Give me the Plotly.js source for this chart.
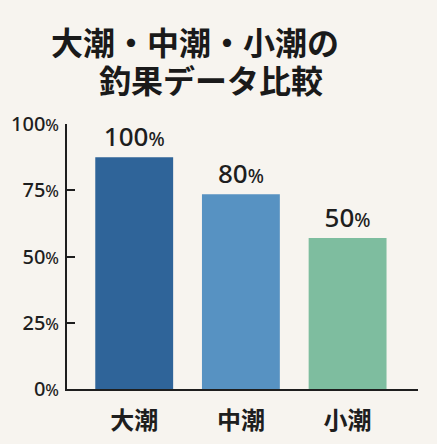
<!DOCTYPE html>
<html>
<head>
<meta charset="utf-8">
<script src="https://cdn.plot.ly/plotly-3.0.1.min.js"></script>
<style>
  html, body { margin: 0; padding: 0; background: #f7f4ef; }
  #chart { width: 437px; height: 444px; }
</style>
</head>
<body>
<div id="chart"></div>
<script>
// 潮ごとの釣果 (bar heights as drawn in the picture, labels as printed)
const tides = ['大潮', '中潮', '小潮'];
const barHeights = [87.5, 73.5, 57];
const valueLabels = ['100', '80', '50'];
const barColors = ['#2f6499', '#5792c2', '#7ebd9f'];

const yTickVals = [0, 25, 50, 75, 100];
const yTickNums = ['0', '25', '50', '75', '100'];

const titleLines = ['大潮・中潮・小潮の', '釣果データ比較'];

const pct = (n, size) => `${n}<span style="font-size:${size}px">%</span>`;
const big = s => `<span style="font-size:32px">${s}</span>`;

const trace = {
    type: 'bar',
    x: tides,
    y: barHeights,
    width: 0.73,
    marker: { color: barColors, line: { width: 0 } },
    text: valueLabels.map(v => pct(v, 19)),
    textposition: 'outside',
    constraintext: 'none',
    cliponaxis: false,
    textfont: { family: 'Noto Sans, sans-serif', size: 26, weight: 500, color: '#1e1e1e' },
    hoverinfo: 'none'
};

const layout = {
    width: 437,
    height: 444,
    margin: { l: 67, r: 19, t: 124, b: 55 },
    paper_bgcolor: '#f7f4ef',
    plot_bgcolor: '#f7f4ef',
    showlegend: false,
    xaxis: {
        range: [-0.63, 2.66],
        showline: true,
        linecolor: '#1e1e1e',
        linewidth: 2,
        ticks: '',
        showgrid: false,
        zeroline: false,
        ticklabelstandoff: 9,
        tickfont: { family: 'Noto Sans CJK JP, sans-serif', size: 24, weight: 'bold', color: '#1e1e1e' }
    },
    yaxis: {
        range: [0, 100],
        tickvals: yTickVals,
        ticktext: yTickNums.map(n => pct(n, 16)),
        ticks: 'inside',
        ticklen: 8,
        tickwidth: 2,
        tickcolor: '#1e1e1e',
        showline: true,
        linecolor: '#1e1e1e',
        linewidth: 2,
        showgrid: false,
        zeroline: false,
        ticklabelstandoff: 2,
        tickfont: { family: 'Noto Sans, sans-serif', size: 20, weight: 500, color: '#1e1e1e' }
    },
    annotations: [
        {
            // one text block; base size sets the line spacing
            text: big(titleLines[0]) + '<br>' + big('\u3000\u2002' + titleLines[1]),
            xref: 'paper', yref: 'paper',
            x: -0.05, y: 1.0, xanchor: 'left', yanchor: 'bottom',
            align: 'left',
            yshift: 22,
            showarrow: false,
            font: { family: 'Liberation Sans, Noto Sans CJK JP, sans-serif', size: 29, weight: 'bold', color: '#1a1a1a' }
        }
    ]
};

Plotly.newPlot('chart', [trace], layout, { staticPlot: true, displayModeBar: false });
</script>
</body>
</html>
